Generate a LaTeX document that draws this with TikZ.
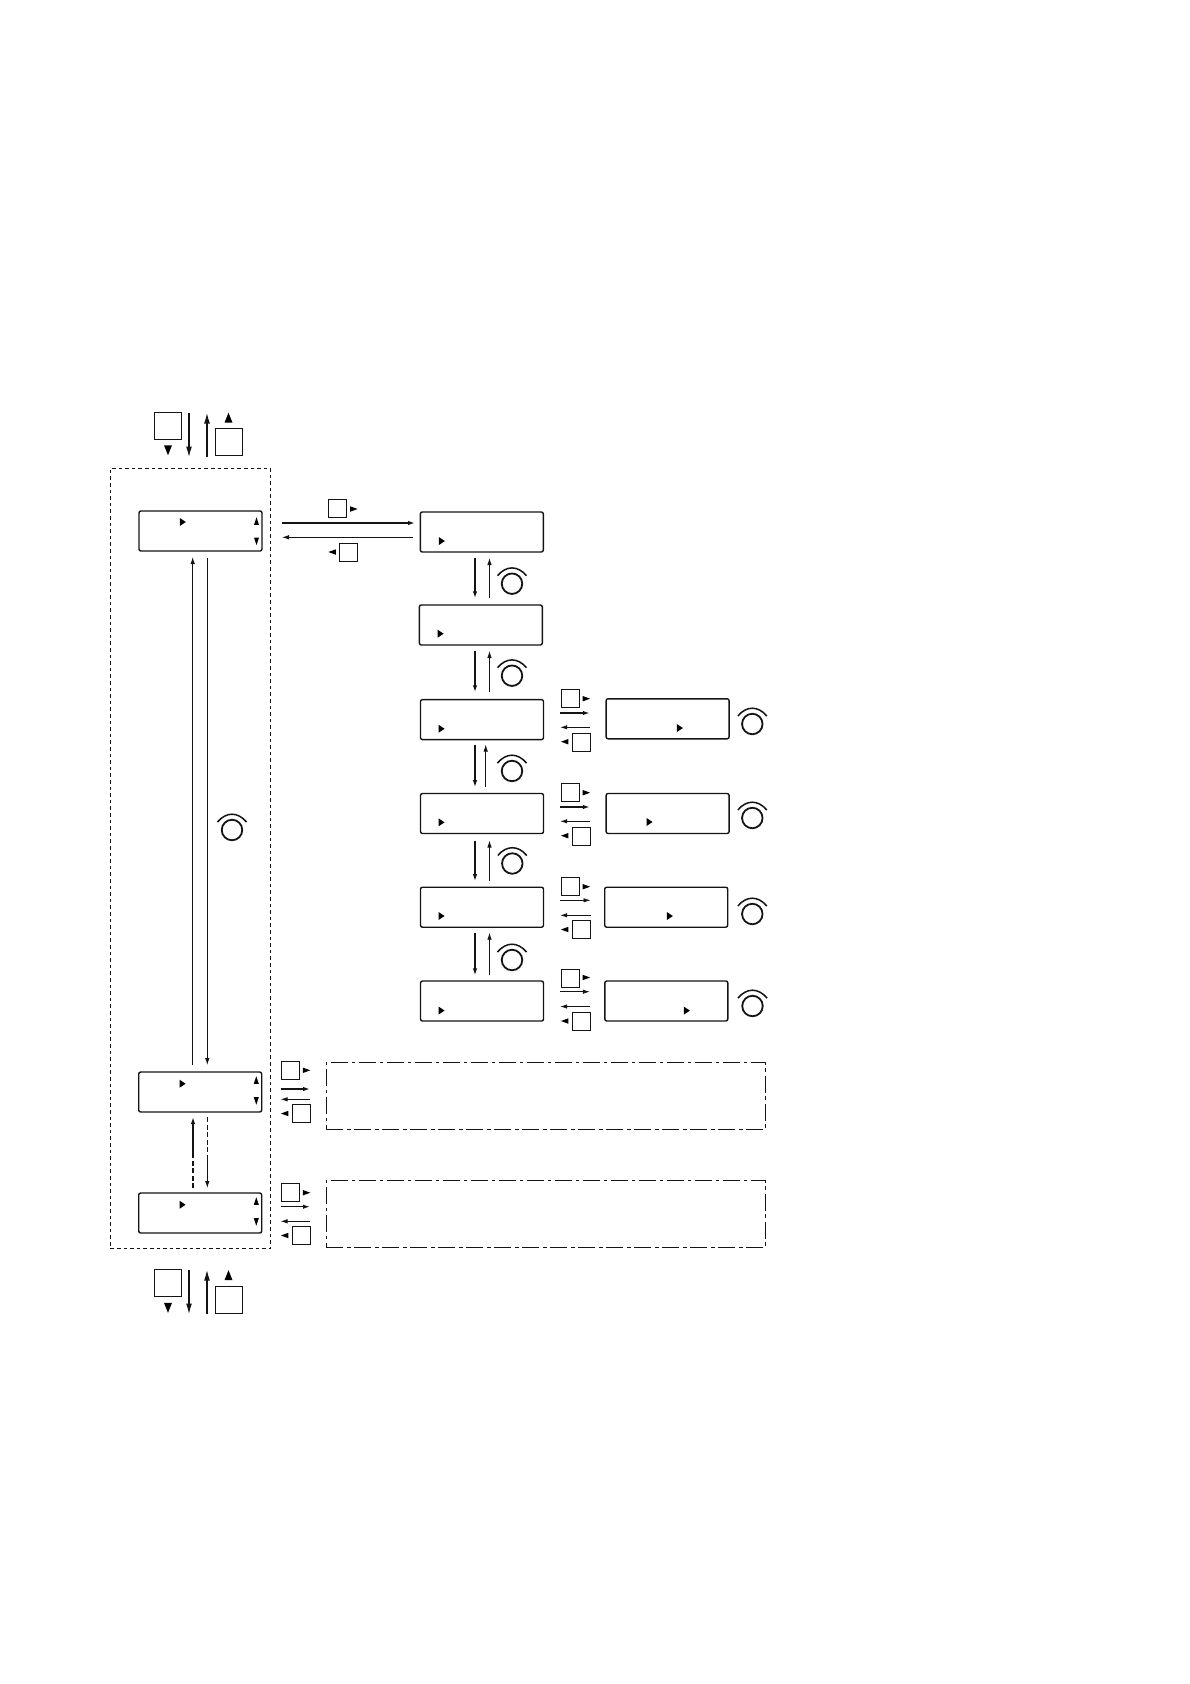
\documentclass[tikz,border=0pt]{standalone}
\usepackage{tikz}
\usetikzlibrary{arrows.meta,shapes.geometric}
\definecolor{lineInk}{RGB}{20,20,20}
\tikzset{
  lcd/.style={draw=lineInk, rounded corners=2pt, line width=1.4pt, minimum width=123pt, minimum height=40pt, inner sep=0pt, outer sep=0pt},
  keybox/.style={draw=lineInk, line width=0.8pt, minimum size=18pt, inner sep=0pt, outer sep=0pt},
  bigkeybox/.style={keybox, minimum size=27pt},
  pagebox/.style={draw=lineInk, line width=0.7pt, dash pattern=on 3.6pt off 3pt, minimum width=160.4pt, minimum height=780pt, inner sep=0pt, outer sep=0pt},
  menubox/.style={draw=lineInk, line width=0.8pt, dash pattern=on 17pt off 4pt on 3.5pt off 3.5pt, minimum width=439.4pt, minimum height=67pt, inner sep=0pt, outer sep=0pt},
  tri/.style={isosceles triangle, isosceles triangle stretches, fill=black, inner sep=0pt, outer sep=0pt, minimum width=5.5pt, minimum height=7.5pt},
  cursor/.style={tri, minimum width=8pt, minimum height=6pt},
  tiptri/.style={tri, minimum width=5pt, minimum height=7.5pt},
  bigtri/.style={tri, minimum width=8pt, minimum height=10pt},
  toright/.style={shape border rotate=0},
  toleft/.style={shape border rotate=180},
  toup/.style={shape border rotate=90},
  todown/.style={shape border rotate=270},
  knob/.style={circle, draw=lineInk, line width=1.8pt, minimum size=20.5pt, inner sep=0pt, outer sep=0pt,
    append after command={([shift={(-14.5,-8)}]\tikzlastnode.center) edge[line width=1.5pt, draw=lineInk, bend left=50, looseness=1.2] ([shift={(14.5,-8)}]\tikzlastnode.center)}},
  flow/.style={-{Latex[length=7pt,width=4.5pt]}, draw=lineInk, line width=1.5pt},
  softflow/.style={-{Latex[length=7pt,width=4.5pt]}, draw=lineInk, line width=0.8pt},
  bigflow/.style={-{Latex[length=11pt,width=6pt]}, draw=lineInk, line width=1.6pt}
}
\begin{document}
\begin{tikzpicture}[x=1pt, y=-1pt]
  \useasboundingbox (0,0) rectangle (1190,1684);
  % page frame and menu frames
  \node[pagebox] (page) at (190.5,858.3) {};
  \node[menubox] (menuH) at (546,1095.8) {};
  \node[menubox] (menuI) at (546,1213.8) {};
  % displays, left column
  \node[lcd] (lcdA) at (200.5,531) {};
  \node[lcd] (lcdH) at (200.2,1092) {};
  \node[lcd] (lcdI) at (200.2,1213) {};
  % displays, middle column
  \node[lcd] (lcdB) at (481.8,532) {};
  \node[lcd] (lcdC) at (480.8,625) {};
  \node[lcd] (lcdD) at (482,719.6) {};
  \node[lcd] (lcdE) at (482,813.5) {};
  \node[lcd] (lcdF) at (482,907.2) {};
  \node[lcd] (lcdG) at (482,1001) {};
  % displays, right column
  \node[lcd] (lcdDr) at (667.6,718.8) {};
  \node[lcd] (lcdEr) at (667.6,813.5) {};
  \node[lcd] (lcdFr) at (666.2,907.2) {};
  \node[lcd] (lcdGr) at (666.3,1001) {};
  % cursors
  \node[cursor, toright] (curA) at (182,522) {};
  \node[cursor, toright] (curH) at (181.7,1083.7) {};
  \node[cursor, toright] (curI) at (181.7,1204.7) {};
  \node[cursor, toright] (curB) at (441,541) {};
  \node[cursor, toright] (curC) at (439.7,633.7) {};
  \node[cursor, toright] (curD) at (440.7,728.7) {};
  \node[cursor, toright] (curE) at (440.7,822.3) {};
  \node[cursor, toright] (curF) at (440.7,916) {};
  \node[cursor, toright] (curG) at (440.7,1010.6) {};
  \node[cursor, toright] (curDr) at (679,728) {};
  \node[cursor, toright] (curEr) at (648.7,822) {};
  \node[cursor, toright] (curFr) at (669,916) {};
  \node[cursor, toright] (curGr) at (686,1010.6) {};
  \node[tiptri, toup] (upA) at (256.5,523) {};
  \node[tiptri, todown] (downA) at (256.5,539.5) {};
  \node[tiptri, toup] (upH) at (256.3,1082) {};
  \node[tiptri, todown] (downH) at (256.3,1099) {};
  \node[tiptri, toup] (upI) at (256.3,1203) {};
  \node[tiptri, todown] (downI) at (256.3,1220) {};
  % paging keys, top and bottom
  \node[bigkeybox] (keyTd) at (168,425.7) {};
  \node[bigkeybox] (keyTu) at (228.5,442.3) {};
  \node[bigtri, todown] (triTd) at (168,448) {};
  \node[bigtri, toup] (triTu) at (228.5,420) {};
  \coordinate (topDa) at (189,413);
  \coordinate (topDb) at (189,457.5);
  \coordinate (topUa) at (207,457);
  \coordinate (topUb) at (207,412.5);
  \draw[bigflow] (topDa) -- (topDb);
  \draw[bigflow] (topUa) -- (topUb);
  \node[bigkeybox] (keyBd) at (168,1282.8) {};
  \node[bigkeybox] (keyBu) at (228.5,1299.8) {};
  \node[bigtri, todown] (triBd) at (168,1305.5) {};
  \node[bigtri, toup] (triBu) at (228.5,1277.5) {};
  \coordinate (botDa) at (189,1270);
  \coordinate (botDb) at (189,1314.5);
  \coordinate (botUa) at (207,1314);
  \coordinate (botUb) at (207,1269.5);
  \draw[bigflow] (botDa) -- (botDb);
  \draw[bigflow] (botUa) -- (botUb);
  % keys between the columns
  \node[keybox] (keyAr) at (337.5,508.8) {};
  \node[tri, toright] (triAr) at (352,509) {};
  \node[keybox] (keyAl) at (348.5,552) {};
  \node[tri, toleft] (triAl) at (334,552) {};
  \node[keybox] (keyDr) at (570,698.3) {};
  \node[tri, toright] (triDr) at (584.5,698.7) {};
  \node[keybox] (keyDl) at (581,742) {};
  \node[tri, toleft] (triDl) at (566.5,741.7) {};
  \node[keybox] (keyEr) at (570,792.3) {};
  \node[tri, toright] (triEr) at (584.5,792.7) {};
  \node[keybox] (keyEl) at (581,836) {};
  \node[tri, toleft] (triEl) at (566.5,835.7) {};
  \node[keybox] (keyFr) at (570,886.3) {};
  \node[tri, toright] (triFr) at (584.5,886.7) {};
  \node[keybox] (keyFl) at (581,929.5) {};
  \node[tri, toleft] (triFl) at (566.5,929.5) {};
  \node[keybox] (keyGr) at (570,978) {};
  \node[tri, toright] (triGr) at (584.5,977.5) {};
  \node[keybox] (keyGl) at (581,1021) {};
  \node[tri, toleft] (triGl) at (566.5,1021) {};
  \node[keybox] (keyHr) at (290.2,1070.3) {};
  \node[tri, toright] (triHr) at (304.7,1070.3) {};
  \node[keybox] (keyHl) at (301.2,1113.5) {};
  \node[tri, toleft] (triHl) at (286.5,1113.5) {};
  \node[keybox] (keyIr) at (290.2,1192.3) {};
  \node[tri, toright] (triIr) at (304.7,1192.7) {};
  \node[keybox] (keyIl) at (301.2,1235.5) {};
  \node[tri, toleft] (triIl) at (286.5,1235.5) {};
  % dials
  \node[knob] (dialA) at (232,830) {};
  \node[knob] (dialB) at (512,583.7) {};
  \node[knob] (dialC) at (512,675.7) {};
  \node[knob] (dialD) at (512,771) {};
  \node[knob] (dialE) at (512.3,863.5) {};
  \node[knob] (dialF) at (512,960) {};
  \node[knob] (dialDr) at (752.3,724) {};
  \node[knob] (dialEr) at (752.3,818) {};
  \node[knob] (dialFr) at (752.3,914) {};
  \node[knob] (dialGr) at (752.5,1006) {};
  % left column connectors
  \draw[softflow] ([shift={(-7.5,-7)}]lcdH.north) -- ([shift={(-7.8,6)}]lcdA.south);
  \draw[softflow] ([shift={(6.8,7)}]lcdA.south) -- ([shift={(7.1,-7)}]lcdH.north);
  \coordinate (gapU) at (193,1157);
  \coordinate (gapD) at (207.3,1157);
  \draw[flow] (gapU) -- ([shift={(-7.2,5)}]lcdH.south);
  \draw[draw=lineInk, line width=1.5pt, dash pattern=on 5pt off 2.5pt] ([shift={(-7.2,-5)}]lcdI.north) -- (gapU);
  \draw[draw=lineInk, line width=0.8pt, dash pattern=on 5pt off 2.5pt] ([shift={(7.1,5)}]lcdH.south) -- (gapD);
  \draw[softflow] (gapD) -- ([shift={(7.1,-5)}]lcdI.north);
  % first row connectors
  \draw[flow] ([shift={(20,-8)}]lcdA.east) -- ([shift={(-5.3,-9)}]lcdB.west);
  \draw[softflow] ([shift={(-7.3,5.3)}]lcdB.west) -- ([shift={(20,6.3)}]lcdA.east);
  % middle column connectors
  \draw[flow] ([shift={(-6.8,6)}]lcdB.south) -- ([shift={(-5.8,-6.7)}]lcdC.north);
  \draw[softflow] ([shift={(8.7,-6.7)}]lcdC.north) -- ([shift={(7.7,6)}]lcdB.south);
  \draw[flow] ([shift={(-5.8,6)}]lcdC.south) -- ([shift={(-7,-7.3)}]lcdD.north);
  \draw[softflow] ([shift={(7.5,-7.3)}]lcdD.north) -- ([shift={(8.7,6)}]lcdC.south);
  \draw[flow] ([shift={(-7,5)}]lcdD.south) -- ([shift={(-7,-6.3)}]lcdE.north);
  \draw[softflow] ([shift={(3.7,-6.3)}]lcdE.north) -- ([shift={(3.7,5)}]lcdD.south);
  \draw[flow] ([shift={(-7,7)}]lcdE.south) -- ([shift={(-7,-6)}]lcdF.north);
  \draw[softflow] ([shift={(7.5,-6)}]lcdF.north) -- ([shift={(7.5,7)}]lcdE.south);
  \draw[flow] ([shift={(-7,5.5)}]lcdF.south) -- ([shift={(-7,-5.6)}]lcdG.north);
  \draw[softflow] ([shift={(7.5,-5.6)}]lcdG.north) -- ([shift={(7.5,5.5)}]lcdF.south);
  % connectors to the right column
  \draw[flow] ([shift={(16.7,-6.6)}]lcdD.east) -- ([shift={(-16.3,-5.8)}]lcdDr.west);
  \draw[softflow] ([shift={(-16.3,8.5)}]lcdDr.west) -- ([shift={(16.7,7.7)}]lcdD.east);
  \draw[flow] ([shift={(16.7,-6.5)}]lcdE.east) -- ([shift={(-16.3,-6.5)}]lcdEr.west);
  \draw[softflow] ([shift={(-16.3,7.8)}]lcdEr.west) -- ([shift={(16.7,7.8)}]lcdE.east);
  \draw[softflow] ([shift={(16.7,-6.9)}]lcdF.east) -- ([shift={(-14.2,-6.9)}]lcdFr.west);
  \draw[softflow] ([shift={(-14.2,8.1)}]lcdFr.west) -- ([shift={(16.7,8.1)}]lcdF.east);
  \draw[softflow] ([shift={(16.7,-9.3)}]lcdG.east) -- ([shift={(-15,-9.3)}]lcdGr.west);
  \draw[softflow] ([shift={(-15,5.5)}]lcdGr.west) -- ([shift={(16.7,5.5)}]lcdG.east);
  % connectors to the menu frames
  \draw[flow] ([shift={(18.9,-3)}]lcdH.east) -- ([shift={(-16.3,-6.8)}]menuH.west);
  \draw[softflow] ([shift={(-16.3,3.5)}]menuH.west) -- ([shift={(18.9,7.3)}]lcdH.east);
  \draw[flow] ([shift={(18.9,-6.3)}]lcdI.east) -- ([shift={(-16.3,-7.1)}]menuI.west);
  \draw[softflow] ([shift={(-16.3,7.5)}]menuI.west) -- ([shift={(18.9,8.3)}]lcdI.east);
\end{tikzpicture}
\end{document}
